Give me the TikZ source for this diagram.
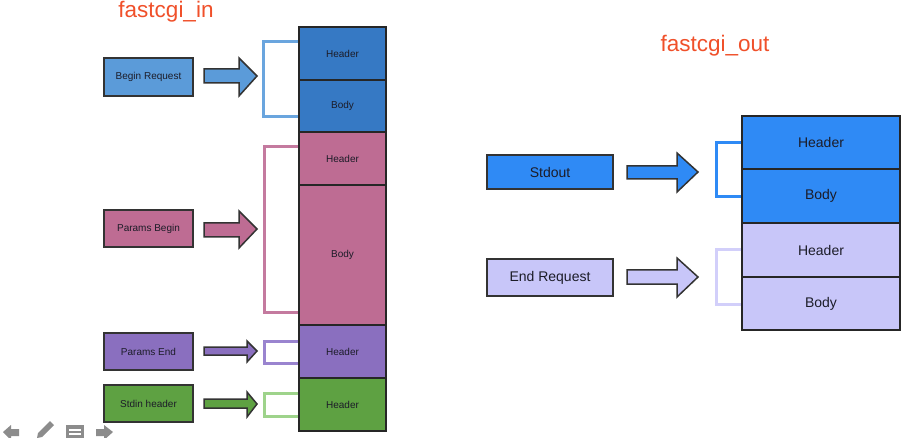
\documentclass[tikz,border=0pt]{standalone}
\usepackage{fontspec}
\setmainfont{Liberation Sans}
\usetikzlibrary{positioning}
\definecolor{ttl}{HTML}{F0502A}
\definecolor{bluecol}{HTML}{3679C4}
\definecolor{bluebox}{HTML}{5B9BD9}
\definecolor{bluebr}{HTML}{6AA5DE}
\definecolor{pinkc}{HTML}{BE6C93}
\definecolor{pinkbr}{HTML}{C47A9F}
\definecolor{purc}{HTML}{8A6FBF}
\definecolor{purbr}{HTML}{9A84CF}
\definecolor{grnc}{HTML}{5EA142}
\definecolor{grnbr}{HTML}{9ED38B}
\definecolor{rblue}{HTML}{2F8AF5}
\definecolor{lav}{HTML}{C8C6F9}
\definecolor{lavbr}{HTML}{D2CFFA}
\definecolor{txt}{HTML}{1C1C28}
\tikzset{
  seg/.style={draw=black!85, line width=1.6pt, text=txt},
  lbox/.style={draw=black!80, line width=1.6pt, text=txt},
  fatarrow/.style={draw=black!80, line width=1.5pt, line join=miter},
  bracket/.style={line width=3pt},
}
\begin{document}
\begin{tikzpicture}[x=1pt,y=-1pt]
\useasboundingbox (0,0) rectangle (907,438);
\fill[white] (0,0) rectangle (907,438);

% titles
\node[text=ttl, font=\fontsize{22.5}{26}\selectfont] (tin) at (166,12) {fastcgi\_in};
\node[text=ttl, font=\fontsize{22.5}{26}\selectfont] (tout) at (715,46) {fastcgi\_out};

% ---- left column ----
\begin{scope}[font=\fontsize{10}{12}\selectfont]
\path[seg, fill=bluecol] (299,27) rectangle node (h1) {Header} (386,80);
\path[seg, fill=bluecol] (299,80) rectangle node (b1) {Body} (386,132);
\path[seg, fill=pinkc] (299,132) rectangle node (h2) {Header} (386,185);
\path[seg, fill=pinkc] (299,185) rectangle node (b2) {Body} (386,325);
\path[seg, fill=purc] (299,325) rectangle node (h3) {Header} (386,378);
\path[seg, fill=grnc] (299,378) rectangle node (h4) {Header} (386,431);

% left boxes
\path[lbox, fill=bluebox] (104,58) rectangle node (br) {Begin Request} (193,96);
\path[lbox, fill=pinkc] (104,210) rectangle node (pb) {Params Begin} (193,247);
\path[lbox, fill=purc] (104,333) rectangle node (pe) {Params End} (193,370);
\path[lbox, fill=grnc] (104,385) rectangle node (sh) {Stdin header} (193,422);
\end{scope}

% arrows left
\path[fatarrow, fill=bluebox] (204,69) -- (239,69) -- (239,58) -- (257,76) -- (239,96) -- (239,83) -- (204,83) -- cycle;
\path[fatarrow, fill=pinkc] (204,223) -- (239,223) -- (239,211) -- (257,229) -- (239,248) -- (239,237) -- (204,237) -- cycle;
\path[fatarrow, fill=purc] (204,347) -- (247,347) -- (247,341) -- (257,351) -- (247,362) -- (247,355) -- (204,355) -- cycle;
\path[fatarrow, fill=grnc] (204,399) -- (247,399) -- (247,392) -- (257,404) -- (247,417) -- (247,408) -- (204,408) -- cycle;

% brackets left
\draw[bracket, bluebr] (298,42) -- (263,42) -- (263,117) -- (298,117);
\draw[bracket, pinkbr] (298,147) -- (264,147) -- (264,312) -- (298,312);
\draw[bracket, purbr] (298,341) -- (264,341) -- (264,363) -- (298,363);
\draw[bracket, grnbr] (298,393) -- (264,393) -- (264,416) -- (298,416);

% ---- right column ----
\begin{scope}[font=\fontsize{14}{16}\selectfont]
\path[seg, fill=rblue] (742,116) rectangle node (rh1) {Header} (900,169);
\path[seg, fill=rblue] (742,169) rectangle node (rb1) {Body} (900,223);
\path[seg, fill=lav] (742,223) rectangle node (rh2) {Header} (900,277);
\path[seg, fill=lav] (742,277) rectangle node (rb2) {Body} (900,330);

\path[lbox, fill=rblue] (487,155) rectangle node (so) {Stdout} (613,189);
\path[lbox, fill=lav] (487,259) rectangle node (er) {End Request} (613,296);
\end{scope}

\path[fatarrow, fill=rblue] (627,166) -- (677,166) -- (677,153) -- (698,172) -- (677,192) -- (677,179) -- (627,179) -- cycle;
\path[fatarrow, fill=lav] (627,270) -- (677,270) -- (677,258) -- (698,277) -- (677,297) -- (677,284) -- (627,284) -- cycle;

\draw[bracket, rblue] (741,143) -- (716,143) -- (716,197) -- (741,197);
\draw[bracket, lavbr] (741,250) -- (716,250) -- (716,304) -- (741,304);

% ---- bottom-left toolbar icons ----
\begin{scope}[fill=black!45, draw=none]
\fill (3,432) -- (11,425) -- (11,429) -- (19,429) -- (19,436) -- (11,436) -- (11,440) -- cycle;
\fill (37,438) -- (38,433) -- (50,421) -- (54,425) -- (42,437) -- cycle;
\fill (66,425) rectangle (84,440);
\fill[white] (69,429) rectangle (81,430.5);
\fill[white] (69,433) rectangle (81,434.5);
\fill (96,429) -- (104,429) -- (104,425) -- (113,432) -- (104,440) -- (104,436) -- (96,436) -- cycle;
\end{scope}
\end{tikzpicture}
\end{document}
